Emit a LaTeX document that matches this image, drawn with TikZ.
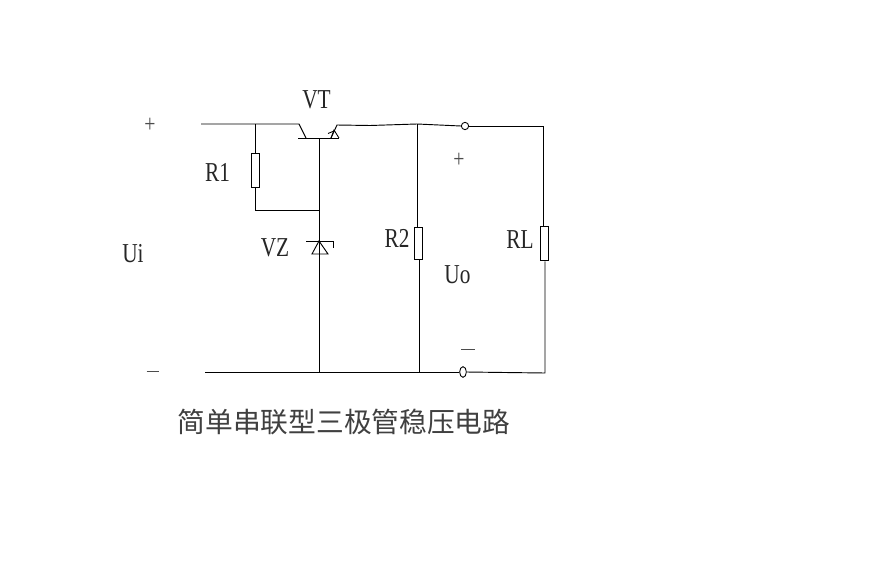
\documentclass[tikz,border=0pt]{standalone}
\usepackage{fontspec}
\usetikzlibrary{shapes.geometric}
\setmainfont[FakeStretch=0.78]{Liberation Serif}
\newfontfamily\cjk{Noto Sans CJK SC}
\begin{document}
\begin{tikzpicture}[x=0.75pt,y=-0.75pt,
  wire/.style={draw=black,line width=0.7pt},
  res/.style={draw=black,line width=0.7pt,fill=white,inner sep=0pt,minimum width=6pt,rectangle},
  term/.style={draw=black,line width=0.65pt,fill=white,ellipse,inner sep=0pt},
  lab/.style={inner sep=0pt,text=black!85,font=\fontsize{20.5}{20}\selectfont},
  sign/.style={inner sep=0pt,text=black!70,font=\fontsize{19}{19}\selectfont}]
\useasboundingbox (0,0) rectangle (877,567);
\fill[white] (0,0) rectangle (877,567);
% components
\node[res,minimum height=25.5pt] (r1) at (255.5,170) {};
\node[res,minimum height=23.5pt] (r2) at (418.5,243.5) {};
\node[res,minimum height=26pt] (rl) at (544.5,243.5) {};
\node[term,minimum width=5.5pt,minimum height=5.5pt] (t1) at (465,126) {};
\node[term,minimum width=5pt,minimum height=8pt] (t2) at (463,372) {};
% free points
\coordinate (inT) at (201,124);
\coordinate (inB) at (205,372);
\coordinate (j1) at (255,124);
\coordinate (j2) at (319,210);
\coordinate (c) at (299,124);
\coordinate (bL) at (298,138);
\coordinate (bR) at (339,138);
\coordinate (b) at (319,138);
\coordinate (cb) at (306,138);
\coordinate (eb) at (331,138);
\coordinate (e) at (337,125);
\coordinate (j3) at (417,124);
\coordinate (j4) at (319,372);
\coordinate (j5) at (419,372);
\coordinate (cT) at (543,126);
\coordinate (cB) at (545,373);
\coordinate (zA) at (319,241);
\coordinate (zK) at (319,254);
% wiring
\draw[wire] (inT) -- (c) -- (cb);
\draw[wire] (bL) -- (bR);
\draw[wire] (eb) -- (e) -- (370,125.5) -- (j3) -- (t1.west);
\draw[wire] (t1.east) -- (cT) -- (rl.north -| cT);
\draw[wire] (rl.south -| cB) -- (cB) -- (505,372.5) -- (t2.east);
\draw[wire] (t2.west) -- (inB);
\draw[wire] (j1) -- (j1 |- r1.north);
\draw[wire] (r1.south -| j1) -- (j1 |- j2) -- (j2);
\draw[wire] (b) -- (j4);
\draw[wire] (j3) -- (j3 |- r2.north);
\draw[wire] (r2.south -| j5) -- (j5);
% transistor arrow
\draw[wire,line width=0.65pt] (339,138) -- (334,130) -- (331,138);
\draw[wire,line width=0.65pt] (328,133.5) -- (334,131);
% zener
\draw[wire] (zA) -- (328,254) -- (312,254) -- cycle;
\draw[wire] (306,241) -- (333,241) -- (333,248);
% labels
\node[lab] (tVT) at (316.5,100) {VT};
\node[lab] (tR1) at (217.5,172.5) {R1};
\node[lab] (tUi) at (133,253.5) {Ui};
\node[lab] (tVZ) at (275,247.5) {VZ};
\node[lab] (tR2) at (397,238.5) {R2};
\node[lab] (tUo) at (457.5,275) {Uo};
\node[lab] (tRL) at (520,239.5) {RL};
\node[sign] (p1) at (150,125) {+};
\node[sign] (p2) at (459,160) {+};
\node[sign] (m1) at (152.5,374) {\rule[0.2em]{9pt}{0.6pt}};
\node[sign] (m2) at (468,352) {\rule[0.2em]{10pt}{0.6pt}};
\node[inner sep=0pt,text=black!75,font=\cjk\fontsize{20.8}{21}\selectfont] (title) at (344,422) {简单串联型三极管稳压电路};
\end{tikzpicture}
\end{document}
